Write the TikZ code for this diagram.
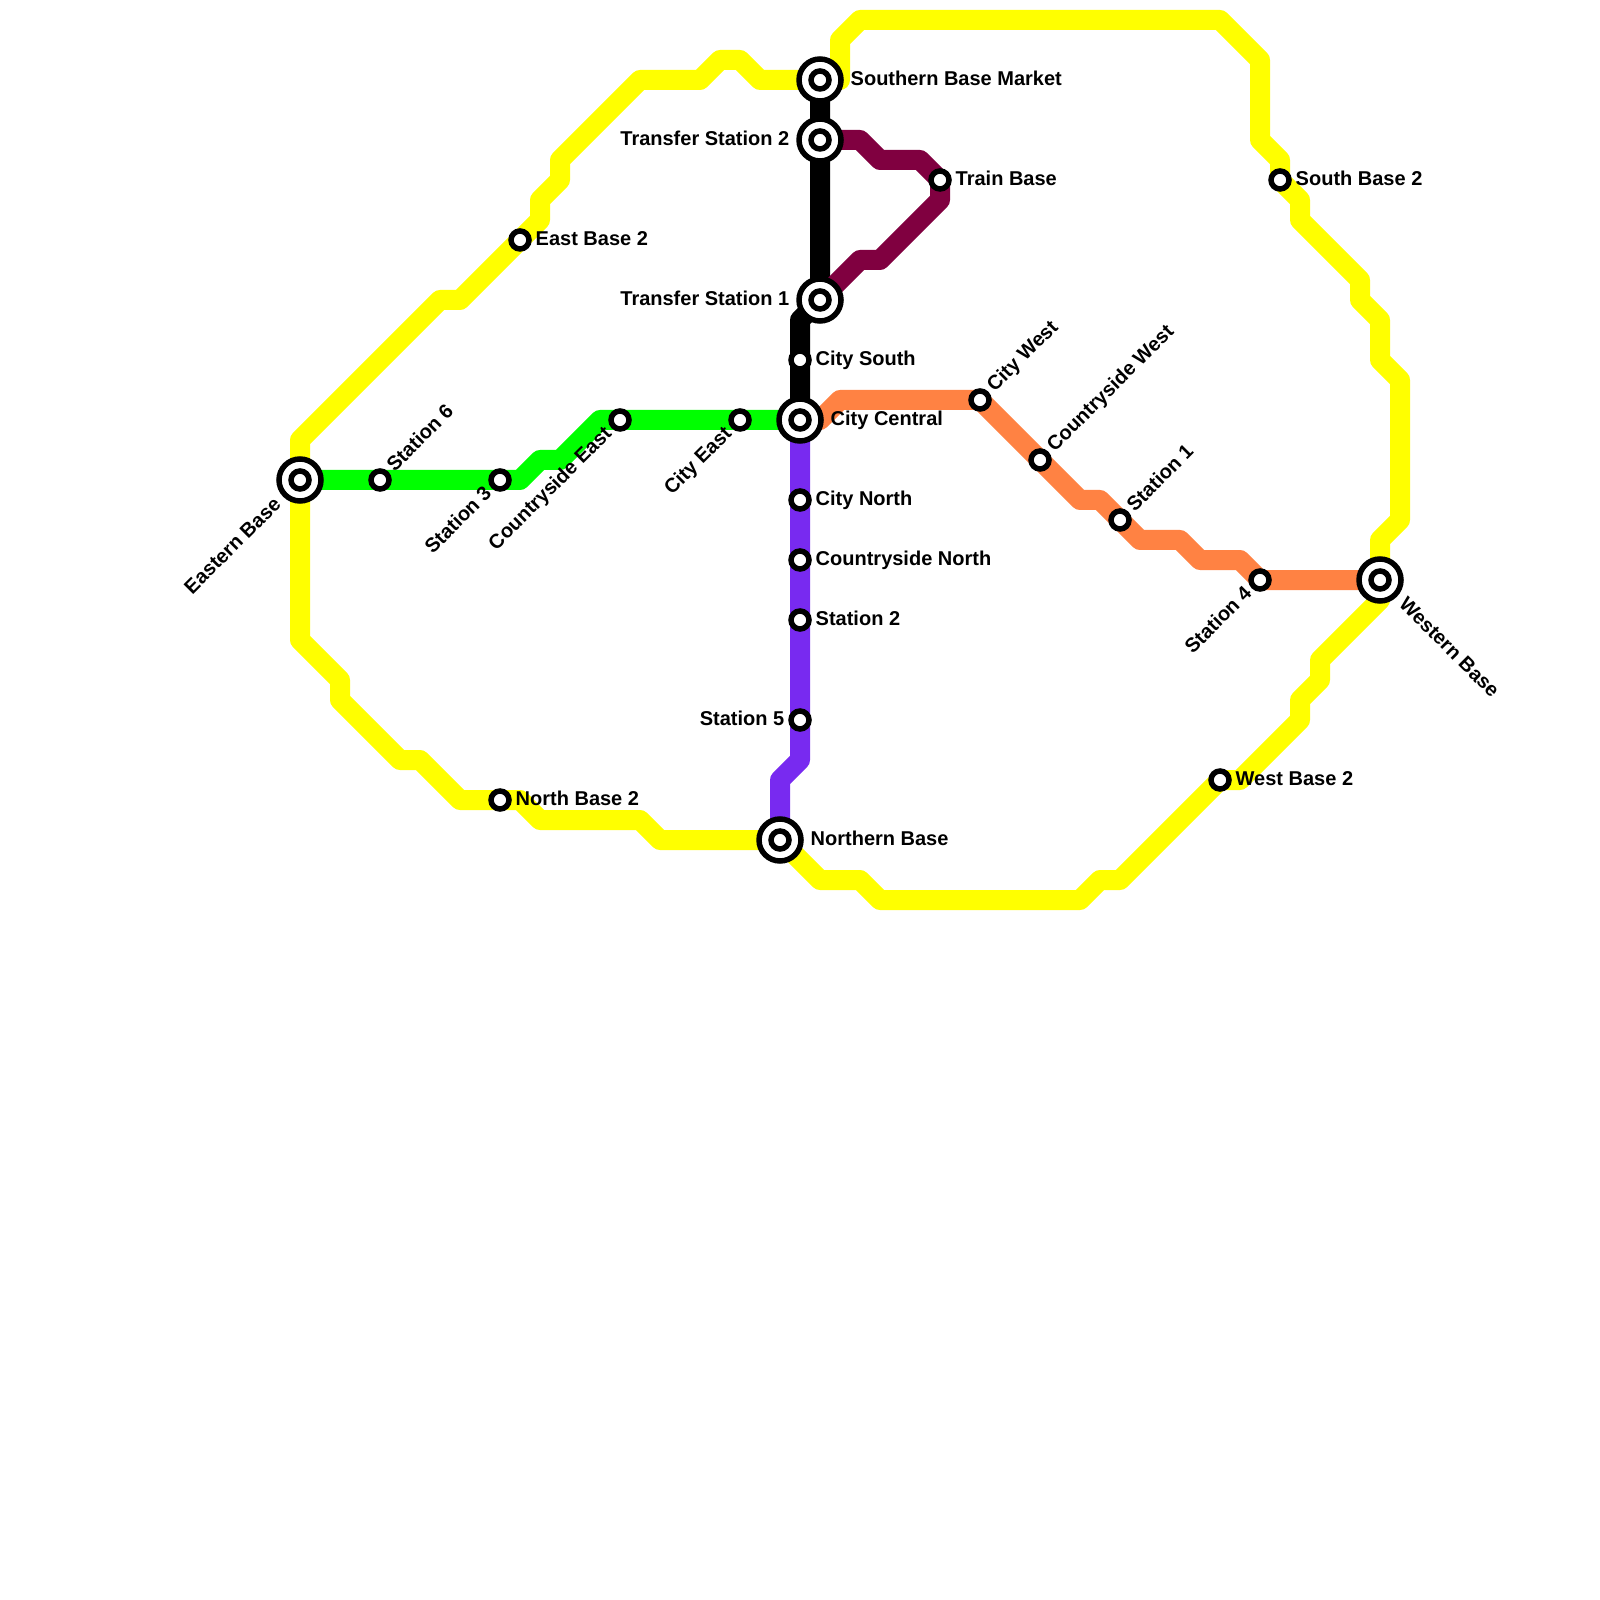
\documentclass[tikz,border=0pt]{standalone}
\usepackage{fontspec}
\setmainfont{Liberation Sans}
\usetikzlibrary{backgrounds,calc,positioning}
\definecolor{lineYellow}{HTML}{FFFF00}
\definecolor{lineGreen}{HTML}{00FF00}
\definecolor{lineOrange}{HTML}{FF8243}
\definecolor{linePurple}{HTML}{782AF0}
\definecolor{lineMaroon}{HTML}{800040}
\tikzset{
  % ---- stations --------------------------------------------------
  stn/.style     = {circle, draw=black, line width=.055cm, fill=white,
                    inner sep=0pt, minimum size=.18cm},
  hub/.style     = {circle, draw=black, line width=.055cm, fill=white,
                    inner sep=0pt, minimum size=.42cm,
                    label={[stn]center:}},
  lab/.style     = {font=\fontsize{5.69}{6}\selectfont\bfseries, text=black,
                    inner sep=0pt, text height=.145cm, text depth=.04cm},
  % ---- lines -----------------------------------------------------
  metro/.style   = {line width=.2cm, line join=round},
  yline/.style   = {metro, draw=lineYellow},
  gline/.style   = {metro, draw=lineGreen},
  oline/.style   = {metro, draw=lineOrange},
  pline/.style   = {metro, draw=linePurple},
  mline/.style   = {metro, draw=lineMaroon},
  kline/.style   = {metro, draw=black, line cap=round},
}
\begin{document}
\begin{tikzpicture}
  \useasboundingbox (0,0) rectangle (16,-16);
  % ---- interchange stations --------------------------------------
  \node[hub] (eastern) at (3.00,-4.80) {};
  \node[hub] (western) at (13.80,-5.80) {};
  \node[hub] (northern) at (7.80,-8.40) {};
  \node[hub] (southern) at (8.20,-0.80) {};
  \node[hub] (central) at (8.00,-4.20) {};
  \node[hub] (transfer2) at (8.20,-1.40) {};
  \node[hub] (transfer1) at (8.20,-3.00) {};
  % ---- plain stations --------------------------------------------
  \node[stn] (station6) at (3.80,-4.80) {};
  \node[stn] (station3) at (5.00,-4.80) {};
  \node[stn] (ceast) at (6.20,-4.20) {};
  \node[stn] (cityeast) at (7.40,-4.20) {};
  \node[stn] (citysouth) at (8.00,-3.60) {};
  \node[stn] (citynorth) at (8.00,-5.00) {};
  \node[stn] (cnorth) at (8.00,-5.60) {};
  \node[stn] (station2) at (8.00,-6.20) {};
  \node[stn] (station5) at (8.00,-7.20) {};
  \node[stn] (trainbase) at (9.40,-1.80) {};
  \node[stn] (eastbase) at (5.20,-2.40) {};
  \node[stn] (northbase) at (5.00,-8.00) {};
  \node[stn] (citywest) at (9.80,-4.00) {};
  \node[stn] (cwest) at (10.40,-4.60) {};
  \node[stn] (station1) at (11.20,-5.20) {};
  \node[stn] (station4) at (12.60,-5.80) {};
  \node[stn] (westbase) at (12.20,-7.80) {};
  \node[stn] (southbase) at (12.80,-1.80) {};
  % ---- labels ----------------------------------------------------
  \node[lab, anchor=west, xshift=3mm] (southernlab) at (southern) {Southern Base Market};
  \node[lab, anchor=east, xshift=-3mm] (transfer2lab) at (transfer2) {Transfer Station 2};
  \node[lab, anchor=east, xshift=-3mm] (transfer1lab) at (transfer1) {Transfer Station 1};
  \node[lab, anchor=west, xshift=3mm] (centrallab) at (central) {City Central};
  \node[lab, anchor=west, xshift=3mm] (northernlab) at (northern) {Northern Base};
  \node[lab, anchor=west, xshift=1.5mm] (trainlab) at (trainbase) {Train Base};
  \node[lab, anchor=west, xshift=1.5mm] (eastbaselab) at (eastbase) {East Base 2};
  \node[lab, anchor=west, xshift=1.5mm] (northbaselab) at (northbase) {North Base 2};
  \node[lab, anchor=west, xshift=1.5mm] (citysouthlab) at (citysouth) {City South};
  \node[lab, anchor=west, xshift=1.5mm] (citynorthlab) at (citynorth) {City North};
  \node[lab, anchor=west, xshift=1.5mm] (cnorthlab) at (cnorth) {Countryside North};
  \node[lab, anchor=west, xshift=1.5mm] (station2lab) at (station2) {Station 2};
  \node[lab, anchor=east, xshift=-1.5mm] (station5lab) at (station5) {Station 5};
  \node[lab, anchor=west, xshift=1.5mm] (westbaselab) at (westbase) {West Base 2};
  \node[lab, anchor=west, xshift=1.5mm] (southbaselab) at (southbase) {South Base 2};
  \node[lab, rotate=45, anchor=west] (station6lab) at ([shift=(45:.15)]station6) {Station 6};
  \node[lab, rotate=45, anchor=west] (citywestlab) at ([shift=(45:.15)]citywest) {City West};
  \node[lab, rotate=45, anchor=west] (cwestlab) at ([shift=(45:.15)]cwest) {Countryside West};
  \node[lab, rotate=45, anchor=west] (station1lab) at ([shift=(45:.15)]station1) {Station 1};
  \node[lab, rotate=45, anchor=east] (easternlab) at ([shift=(225:.30)]eastern) {Eastern Base};
  \node[lab, rotate=45, anchor=east] (station3lab) at ([shift=(225:.15)]station3) {Station 3};
  \node[lab, rotate=45, anchor=east] (ceastlab) at ([shift=(225:.15)]ceast) {Countryside East};
  \node[lab, rotate=45, anchor=east] (cityeastlab) at ([shift=(225:.15)]cityeast) {City East};
  \node[lab, rotate=45, anchor=east] (station4lab) at ([shift=(225:.15)]station4) {Station 4};
  \node[lab, rotate=-45, anchor=west] (westernlab) at ([shift=(-45:.30)]western) {Western Base};
  % ---- lines, under the stations ---------------------------------
  \begin{scope}[on background layer]
    \draw[yline] (eastern.center) -- (3.00,-4.40) -- (4.40,-3.00) -- (4.60,-3.00)
      -- (eastbase.center) -- (5.40,-2.20) -- (5.40,-2.00) -- (5.60,-1.80) -- (5.60,-1.60)
      -- (6.40,-0.80) -- (7.00,-0.80) -- (7.20,-0.60) -- (7.40,-0.60) -- (7.60,-0.80)
      -- (southern.center) -- (8.40,-0.80) -- (8.40,-0.40) -- (8.60,-0.20) -- (12.20,-0.20)
      -- (12.60,-0.60) -- (12.60,-1.40) -- (12.80,-1.60) -- (southbase.center)
      -- (13.00,-2.00) -- (13.00,-2.20) -- (13.60,-2.80) -- (13.60,-3.00) -- (13.80,-3.20)
      -- (13.80,-3.60) -- (14.00,-3.80) -- (14.00,-5.20) -- (13.80,-5.40) -- (western.center)
      -- (13.80,-6.00) -- (13.20,-6.60) -- (13.20,-6.80) -- (13.00,-7.00) -- (13.00,-7.20)
      -- (12.40,-7.80) -- (westbase.center) -- (11.20,-8.80) -- (11.00,-8.80) -- (10.80,-9.00)
      -- (8.80,-9.00) -- (8.60,-8.80) -- (8.20,-8.80) -- (northern.center) -- (6.60,-8.40)
      -- (6.40,-8.20) -- (5.40,-8.20) -- (5.20,-8.00) -- (northbase.center) -- (4.60,-8.00)
      -- (4.20,-7.60) -- (4.00,-7.60) -- (3.40,-7.00) -- (3.40,-6.80) -- (3.00,-6.40)
      -- (eastern.center);
    \draw[gline] (eastern.center) -- (station6.center) -- (station3.center) -- (5.20,-4.80)
      -- (5.40,-4.60) -- (5.60,-4.60) -- (6.00,-4.20) -- (ceast.center) -- (cityeast.center)
      -- (central.center);
    \draw[pline] (central.center) -- (citynorth.center) -- (cnorth.center) -- (station2.center)
      -- (station5.center) -- (8.00,-7.60) -- (7.80,-7.80) -- (northern.center);
    \draw[kline] (southern.center) -- (transfer2.center) -- (transfer1.center) -- (8.00,-3.20)
      -- (citysouth.center) -- (central.center);
    \draw[mline] (transfer2.center) -- (8.60,-1.40) -- (8.80,-1.60) -- (9.20,-1.60)
      -- (trainbase.center) -- (9.40,-2.00) -- (8.80,-2.60) -- (8.60,-2.60) -- (transfer1.center);
    \draw[oline] (central.center) -- (8.20,-4.20) -- (8.40,-4.00) -- (citywest.center)
      -- (cwest.center) -- (10.80,-5.00) -- (11.00,-5.00) -- (station1.center) -- (11.40,-5.40)
      -- (11.80,-5.40) -- (12.00,-5.60) -- (12.40,-5.60) -- (station4.center) -- (western.center);
  \end{scope}
\end{tikzpicture}
\end{document}
